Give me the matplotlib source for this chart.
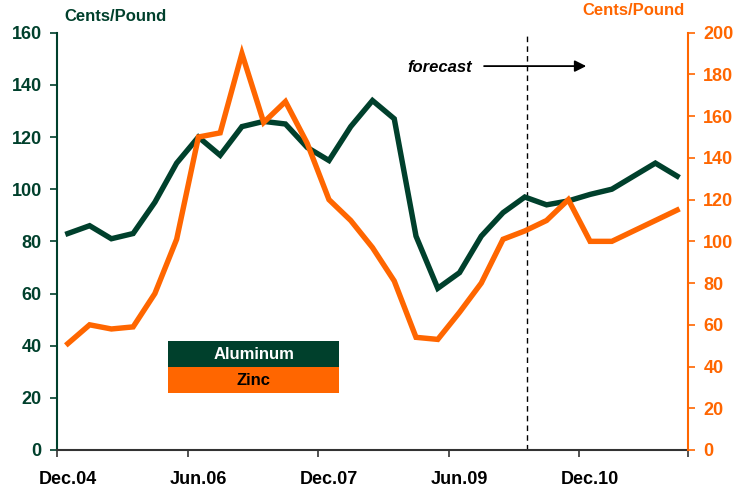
#!/usr/bin/env python3

import matplotlib
matplotlib.use('Agg')
import matplotlib.pyplot as plt

plt.rcParams['font.family'] = ['Liberation Sans', 'DejaVu Sans']
plt.rcParams['font.weight'] = 'bold'

GREEN = '#00402C'
ORANGE = '#FF6600'

# quarterly, Dec.04 .. Dec.11 (forecast from Mar.10)
tick_labels = ['Dec.04', 'Jun.06', 'Dec.07', 'Jun.09', 'Dec.10']
tick_idx = [0, 6, 12, 18, 24]
forecast_idx = 21

aluminum = [83, 86, 81, 83, 95, 110, 120, 113, 124, 126, 125, 116,
            111, 124, 134, 127, 82, 62, 68, 82, 91, 97, 94, 95.5,
            98, 100, 105, 110, 105]
zinc = [51, 60, 58, 59, 75, 101, 150, 152, 190, 157, 167, 147,
        120, 110, 97, 81, 54, 53, 66, 80, 101, 105, 110, 120,
        100, 100, 105, 110, 115]


def main():
    fig = plt.figure(figsize=(7.36, 4.92), dpi=100)
    ax = fig.add_axes([0.0774, 0.0854, 0.8574, 0.8481])
    ax2 = ax.twinx()

    x = list(range(len(aluminum)))
    ax.plot(x, aluminum, color=GREEN, lw=3.9, solid_joinstyle='miter', zorder=3)
    ax2.plot(x, zinc, color=ORANGE, lw=3.9, solid_joinstyle='miter', zorder=3)

    ax.set_xlim(-0.5, len(x) - 0.5)
    ax.set_ylim(0, 160)
    ax2.set_ylim(0, 200)
    ax.set_yticks(range(0, 161, 20))
    ax2.set_yticks(range(0, 201, 20))

    # ticks at category boundaries, labels at category centres
    ax.set_xticks([i - 0.5 for i in tick_idx] + [len(x) - 0.5])
    ax.set_xticklabels([])
    ax.set_xticks(tick_idx, minor=True)
    ax.set_xticklabels(tick_labels, minor=True)
    ax.tick_params(axis='x', which='minor', length=0, pad=15,
                   labelsize=13, labelcolor='black')
    ax.tick_params(axis='x', which='major', length=5, width=1.2,
                   color='#333333', direction='out')

    ax.tick_params(axis='y', colors=GREEN, labelsize=13, length=5, width=1.2,
                   pad=6)
    ax2.tick_params(axis='y', colors=ORANGE, labelsize=13, length=5, width=1.2,
                    pad=6)

    for a in (ax, ax2):
        a.spines['top'].set_visible(False)
    ax.spines['right'].set_visible(False)
    ax2.spines['left'].set_visible(False)
    ax2.spines['bottom'].set_visible(False)
    ax.spines['left'].set_color(GREEN)
    ax.spines['left'].set_linewidth(1.5)
    ax2.spines['right'].set_color(ORANGE)
    ax2.spines['right'].set_linewidth(1.5)
    ax.spines['bottom'].set_color('#333333')
    ax.spines['bottom'].set_linewidth(1.5)

    for lbl in ax.get_yticklabels() + ax2.get_yticklabels():
        lbl.set_fontweight('bold')

    fig.text(0.087, 0.967, 'Cents/Pound', color=GREEN, fontsize=12,
             fontweight='bold', va='center', ha='left')
    fig.text(0.930, 0.979, 'Cents/Pound', color=ORANGE, fontsize=12,
             fontweight='bold', va='center', ha='right')

    # forecast marker
    ax.axvline(forecast_idx + 0.1, color='black', lw=1, ls=(0, (4, 3)), zorder=2)
    ax.text(forecast_idx - 2.42, 146.8, 'forecast', style='italic',
            fontweight='bold', fontsize=12, ha='right', va='center')
    ax.annotate('', xy=(forecast_idx + 2.95, 147.2),
                xytext=(forecast_idx - 2.0, 147.2),
                arrowprops=dict(arrowstyle='-|>', color='black', lw=1.3,
                                mutation_scale=17))

    # legend as two colored bars
    lx0, lx1 = 4.6, 12.47
    ax.fill_between([lx0, lx1], 31.8, 41.8, color=GREEN, lw=0, zorder=4)
    ax.fill_between([lx0, lx1], 21.9, 31.8, color=ORANGE, lw=0, zorder=4)
    ax.text((lx0 + lx1) / 2, 36.8, 'Aluminum', color='white', fontsize=12,
            fontweight='bold', ha='center', va='center', zorder=5)
    ax.text((lx0 + lx1) / 2, 26.8, 'Zinc', color='black', fontsize=12,
            fontweight='bold', ha='center', va='center', zorder=5)

    fig.savefig('out.png', dpi=100)


if __name__ == '__main__':
    main()
